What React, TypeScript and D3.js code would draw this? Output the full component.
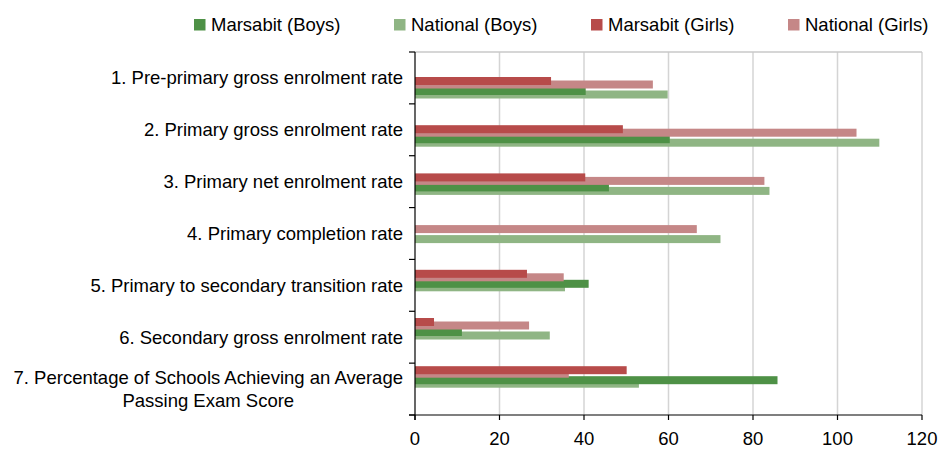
import * as d3 from 'd3';
import React, { useEffect, useRef } from 'react';

const categories = [
  '1. Pre-primary gross enrolment rate',
  '2. Primary gross enrolment rate',
  '3. Primary net enrolment rate',
  '4. Primary completion rate',
  '5. Primary to secondary transition rate',
  '6. Secondary gross enrolment rate',
  '7. Percentage of Schools Achieving an Average|Passing Exam Score',
];

const marsabitBoys = [40.4, 60.3, 45.9, null, 41.1, 11.1, 85.8];
const nationalBoys = [59.8, 109.9, 83.9, 72.3, 35.5, 31.9, 53.0];
const marsabitGirls = [32.2, 49.2, 40.3, null, 26.5, 4.5, 50.1];
const nationalGirls = [56.3, 104.5, 82.7, 66.7, 35.2, 27.0, 36.4];

const xTicks = [0, 20, 40, 60, 80, 100, 120];

const series = [
  { name: 'Marsabit (Boys)', values: marsabitBoys, color: '#4E9146', group: 'Boys', national: false },
  { name: 'National (Boys)', values: nationalBoys, color: '#8FB584', group: 'Boys', national: true },
  { name: 'Marsabit (Girls)', values: marsabitGirls, color: '#B74B4A', group: 'Girls', national: false },
  { name: 'National (Girls)', values: nationalGirls, color: '#C58787', group: 'Girls', national: true },
];

const Chart = () => {
  const ref = useRef<SVGSVGElement | null>(null);

  useEffect(() => {
    const svg = d3.select(ref.current);
    svg.selectAll('*').remove();
    const font = '"Liberation Sans", Arial, sans-serif';
    const fs = '18.5px';

    const left = 415, right = 922, top = 52, bottom = 415;
    const x = d3.scaleLinear().domain([0, 120]).range([left, right]);
    const y = d3.scaleBand().domain(categories).range([top, bottom]);
    const barY = d3.scaleBand().domain(categories).range([77, 414.4]);
    const groupY = d3.scaleBand().domain(['Girls', 'Boys']).range([0, 20]);
    const barH = 8;
    const shift = 3.5;

    // gridlines
    svg.append('g')
      .selectAll('line')
      .data(xTicks.slice(1))
      .enter().append('line')
      .attr('x1', d => x(d)).attr('x2', d => x(d))
      .attr('y1', top).attr('y2', bottom)
      .attr('stroke', '#D4D4D4').attr('stroke-width', 1.5);
    svg.append('line')
      .attr('x1', left).attr('x2', right).attr('y1', top).attr('y2', top)
      .attr('stroke', '#C8C8C8').attr('stroke-width', 1.5);

    // bars: national first, girls on top of boys
    const order = [series[1], series[0], series[3], series[2]];
    order.forEach(s => {
      svg.append('g')
        .selectAll('rect')
        .data(s.values.map((v, i) => ({ v, c: categories[i] })).filter(d => d.v != null))
        .enter().append('rect')
        .attr('x', x(0))
        .attr('y', d => (barY(d.c) as number) + (groupY(s.group) as number) + (s.national ? shift : 0))
        .attr('width', d => x(d.v as number) - x(0))
        .attr('height', barH)
        .attr('fill', s.color);
    });

    // y axis
    svg.append('line')
      .attr('x1', left).attr('x2', left).attr('y1', top).attr('y2', bottom + 5)
      .attr('stroke', '#000').attr('stroke-width', 1.2);
    const bounds = categories.map(c => y(c) as number).concat([bottom]);
    svg.append('g').selectAll('line').data(bounds).enter().append('line')
      .attr('x1', left - 6).attr('x2', left).attr('y1', d => d).attr('y2', d => d)
      .attr('stroke', '#000').attr('stroke-width', 1.2);

    // x axis
    svg.append('line')
      .attr('x1', left - 6).attr('x2', right).attr('y1', bottom).attr('y2', bottom)
      .attr('stroke', '#000').attr('stroke-width', 1.2);
    svg.append('g').selectAll('line').data(xTicks).enter().append('line')
      .attr('x1', d => x(d)).attr('x2', d => x(d)).attr('y1', bottom).attr('y2', bottom + 5)
      .attr('stroke', '#000').attr('stroke-width', 1.2);
    svg.append('g').selectAll('text').data(xTicks).enter().append('text')
      .attr('x', d => x(d)).attr('y', 445)
      .attr('text-anchor', 'middle')
      .style('font-family', font).style('font-size', fs)
      .text(d => d);

    // category labels
    const labelRight = 403;
    categories.forEach(c => {
      const lines = c.split('|');
      const cy = (y(c) as number) + y.bandwidth() / 2;
      const lh = 23;
      const g = svg.append('g');
      const texts = lines.map((ln, i) =>
        g.append('text')
          .attr('y', cy + (i - (lines.length - 1) / 2) * lh)
          .attr('dy', '0.35em')
          .style('font-family', font).style('font-size', fs)
          .text(ln)
      );
      const widths = texts.map(t => (t.node() as SVGTextElement).getComputedTextLength());
      const w = Math.max(...widths);
      texts.forEach(t => t.attr('text-anchor', 'middle').attr('x', labelRight - w / 2));
    });

    // legend
    const legendX = [194, 394, 591, 788];
    series.forEach((s, i) => {
      svg.append('rect')
        .attr('x', legendX[i]).attr('y', 19).attr('width', 11.5).attr('height', 11.5)
        .attr('fill', s.color);
      svg.append('text')
        .attr('x', legendX[i] + 17).attr('y', 25)
        .attr('dy', '0.35em')
        .style('font-family', font).style('font-size', fs)
        .text(s.name);
    });
  }, []);

  return (
    <svg ref={ref} width={939} height={450}
      style={{ position: 'absolute', left: 0, top: 0, background: '#fff' }} />
  );
};

export default function App() {
  return <Chart />;
}
